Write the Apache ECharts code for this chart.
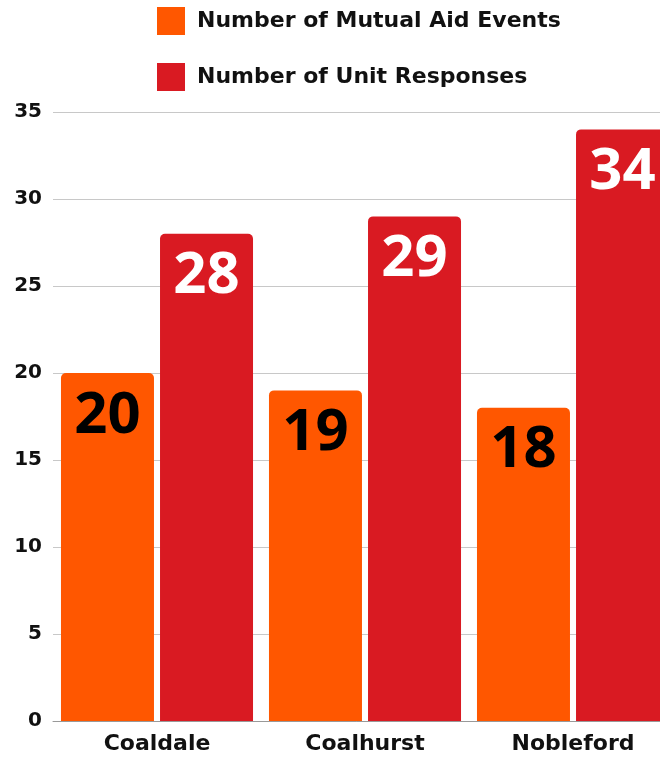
<!DOCTYPE html>
<html>
<head>
<meta charset="utf-8">
<script src="https://cdn.jsdelivr.net/npm/echarts@6/dist/echarts.min.js"></script>
<style>
  html, body { margin: 0; padding: 0; background: #fff; }
  #chart { width: 660px; height: 757px; }
</style>
</head>
<body>
<div id="chart"></div>
<script>
// data
const towns = ['Coaldale', 'Coalhurst', 'Nobleford']
const mutualAid = [20, 19, 18]
const unitResponses = [28, 29, 34]
const seriesNames = ['Number of Mutual Aid Events', 'Number of Unit Responses']

const FONT = 'DejaVu Sans'
const ORANGE = '#FF5700'
const RED = '#D91A22'

const myChart = echarts.init(document.getElementById('chart'))

function barSeries(name, data, color, labelColor) {
    return {
        name: name,
        type: 'bar',
        data: data,
        barWidth: 93,
        barGap: '6.5%',
        itemStyle: {
            color: color,
            borderRadius: [5, 5, 0, 0]
        },
        label: {
            show: true,
            position: 'insideTop',
            distance: 14,
            color: labelColor,
            fontFamily: 'Open Sans',
            fontWeight: 'bold',
            fontSize: 58
        }
    }
}

let option = {
    animation: false,
    legend: {
        orient: 'vertical',
        left: 157,
        top: 7,
        padding: 0,
        itemWidth: 28,
        itemHeight: 28,
        itemGap: 28,
        icon: 'rect',
        data: seriesNames,
        textStyle: {
            fontFamily: FONT,
            fontWeight: 'bold',
            fontSize: 22,
            color: '#111',
            padding: [0, 0, 0, 7]
        }
    },
    grid: {
        top: 112,
        bottom: 36,
        left: 53,
        width: 624,
        containLabel: false,
        outerBoundsMode: 'none'
    },
    xAxis: {
        type: 'category',
        data: towns,
        axisTick: { show: false },
        axisLine: { lineStyle: { color: '#999' } },
        axisLabel: {
            margin: 12,
            color: '#111',
            fontFamily: FONT,
            fontWeight: 'bold',
            fontSize: 22
        }
    },
    yAxis: {
        type: 'value',
        min: 0,
        max: 35,
        interval: 5,
        axisLabel: {
            margin: 11,
            color: '#111',
            fontFamily: FONT,
            fontWeight: 'bold',
            fontSize: 20
        },
        splitLine: { lineStyle: { color: '#c8c8c8' } }
    },
    series: [
        barSeries(seriesNames[0], mutualAid, ORANGE, '#000'),
        barSeries(seriesNames[1], unitResponses, RED, '#fff')
    ]
}
myChart.setOption(option)
</script>
</body>
</html>
